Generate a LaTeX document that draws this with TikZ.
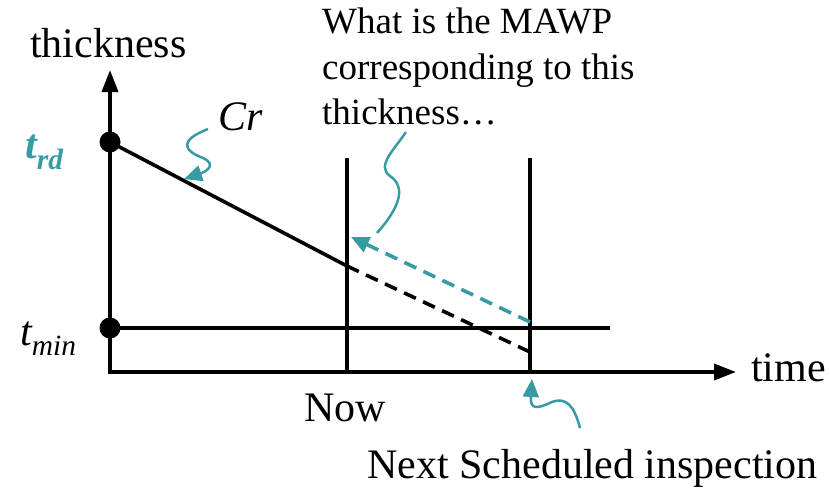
\documentclass[tikz,border=0pt]{standalone}
\usepackage{fontspec}
\setmainfont{Liberation Serif}
\usetikzlibrary{arrows.meta}
\definecolor{teal1}{RGB}{54,155,163}
\tikzset{
  axisline/.style={line width=3.6pt,-{Triangle[length=22pt,width=16pt]}},
  blk/.style={line width=3.6pt},
  blkdash/.style={line width=3.6pt,dash pattern=on 13pt off 8pt},
  tealdash/.style={line width=3.6pt,teal1,dash pattern=on 13pt off 8pt,-{Triangle[length=18pt,width=16pt]}},
  squig/.style={line width=2.5pt,teal1},
  squigarrow/.style={squig,-{Triangle[length=18pt,width=16pt]}},
  dot/.style={circle,fill=black,inner sep=0pt,minimum size=21pt},
  big/.style={font=\fontsize{42}{46}\selectfont,inner sep=0pt},
  mid/.style={font=\fontsize{37}{45}\selectfont,inner sep=0pt}
}
\begin{document}
\begin{tikzpicture}[x=1pt,y=-1pt]
\useasboundingbox (0,0) rectangle (830,496);
% coordinates
\coordinate (O) at (110,372);
\coordinate (ytop) at (110,70);
\coordinate (xend) at (736,372);
\coordinate (nowtop) at (347,158);
\coordinate (nowbot) at (347,372);
\coordinate (nexttop) at (530,158);
\coordinate (nextbot) at (530,374);
\coordinate (nowpt) at (347,266);
\coordinate (endpt) at (530,352);
\coordinate (minend) at (610,328);
\coordinate (tgt) at (530,322);
\coordinate (tgtend) at (351,237);
% lines
\draw[blk] (nowtop) -- (nowbot);
\draw[blk] (nexttop) -- (nextbot);
\node[dot] (trd) at (110,142) {};
\node[dot] (tmin) at (110,328) {};
\draw[blk] (tmin.center) -- (minend);
\draw[blk] (trd.center) -- (nowpt);
\draw[blkdash] (nowpt) -- (endpt);
\draw[axisline] (O) -- (ytop);
\draw[axisline] ([xshift=-1.8pt]O) -- (xend);
\draw[tealdash] (tgt) -- (tgtend);
% squiggles
\coordinate (crs) at (208,129);
\coordinate (crt) at (184,179);
\draw[squigarrow] (crs) .. controls (180,140) and (182,150) .. (203,158) .. controls (218,165) and (205,172) .. (crt);
\coordinate (qs) at (406,132);
\coordinate (qe) at (377,233);
\draw[squig] (qs) .. controls (394,150) and (376,166) .. (390,176) .. controls (405,186) and (402,205) .. (qe);
\coordinate (ns) at (580,428);
\coordinate (nt) at (532,379);
\draw[squigarrow] (ns) .. controls (574,405) and (566,397) .. (552,402) .. controls (537,409) and (530,410) .. (nt);
% text
\node[big,anchor=base west] (thk) at (30,57) {thickness};
\node[big,anchor=base west] (time) at (751,381) {time};
\node[big,anchor=base] (now) at (345,421) {Now};
\node[big,anchor=base west] (next) at (367,478) {Next Scheduled inspection};
\node[mid,anchor=base west] (q1) at (322,33) {What is the MAWP};
\node[mid,anchor=base west] (q2) at (322,79) {corresponding to this};
\node[mid,anchor=base west] (q3) at (322,124) {thickness…};
\node[big,anchor=base west] (cr) at (218,130) {\itshape Cr};
\node[big,anchor=base west,text=teal1] (trdl) at (25,158) {\bfseries\itshape t\textsubscript{rd}};
\node[big,anchor=base west] (tminl) at (20,345) {\itshape t\textsubscript{min}};
\end{tikzpicture}
\end{document}
